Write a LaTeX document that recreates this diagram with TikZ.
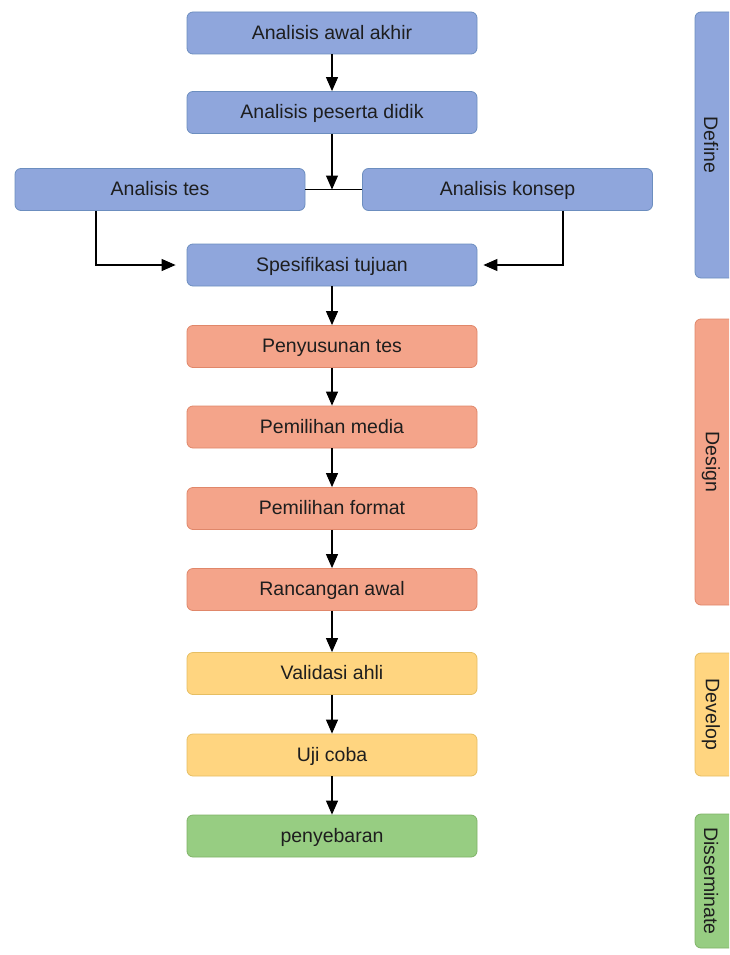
\documentclass[tikz,border=0pt]{standalone}
\usepackage{fontspec}
\setmainfont{Liberation Sans}
\usepackage{xcolor}
\usepackage{tikz}
\usetikzlibrary{positioning,arrows.meta,calc}
\definecolor{defineBlue}{HTML}{8FA6DC}
\definecolor{defineEdge}{HTML}{6C8EBF}
\definecolor{designOrange}{HTML}{F4A48A}
\definecolor{designEdge}{HTML}{E0876A}
\definecolor{developYellow}{HTML}{FFD580}
\definecolor{developEdge}{HTML}{E6BE62}
\definecolor{dissemGreen}{HTML}{97CD82}
\definecolor{dissemEdge}{HTML}{7FB367}
\definecolor{labelInk}{HTML}{1E1E1E}

\begin{document}
\begin{tikzpicture}[x=1pt, y=-1pt,
  stage/.style={draw, rectangle, rounded corners=6pt, line width=0.8pt,
    minimum width=290pt, minimum height=42pt, inner sep=0pt,
    text height=15pt, text depth=2.5pt,
    font=\fontsize{19.5}{23}\selectfont, text=labelInk},
  defbox/.style={stage, fill=defineBlue, draw=defineEdge},
  desbox/.style={stage, fill=designOrange, draw=designEdge},
  devbox/.style={stage, fill=developYellow, draw=developEdge},
  disbox/.style={stage, fill=dissemGreen, draw=dissemEdge},
  flow/.style={line width=1.1pt, -{Triangle[length=14pt,width=12pt]}},
  phaselbl/.style={rotate=-90, font=\fontsize{19.5}{23}\selectfont, text=labelInk}]
  \useasboundingbox (0,0) rectangle (729,955);
  \clip (0,0) rectangle (729,955);

  % phase bars (cut at the right edge)
  \filldraw[fill=defineBlue, draw=defineEdge, line width=0.8pt, rounded corners=6pt]
    (695,12) rectangle (760,278);
  \filldraw[fill=designOrange, draw=designEdge, line width=0.8pt, rounded corners=6pt]
    (695,319) rectangle (760,605);
  \filldraw[fill=developYellow, draw=developEdge, line width=0.8pt, rounded corners=6pt]
    (695,653) rectangle (760,776);
  \filldraw[fill=dissemGreen, draw=dissemEdge, line width=0.8pt, rounded corners=6pt]
    (695,814) rectangle (760,948);
  \node[phaselbl] (pdefine) at (711,145) {Define};
  \node[phaselbl] (pdesign) at (711,462) {Design};
  \node[phaselbl] (pdevelop) at (711,714.5) {Develop};
  \node[phaselbl] (pdissem) at (711,881) {Disseminate};

  % define
  \node[defbox] (awal) at (332,33) {Analisis awal akhir};
  \node[defbox] (peserta) at (332,112.5) {Analisis peserta didik};
  \node[defbox] (tes) at (160,189.5) {Analisis tes};
  \node[defbox] (konsep) at (507.5,189.5) {Analisis konsep};
  \node[defbox] (tujuan) at (332,265) {Spesifikasi tujuan};
  % design
  \node[desbox] (penyusunan) at (332,346.5) {Penyusunan tes};
  \node[desbox] (media) at (332,427) {Pemilihan media};
  \node[desbox] (format) at (332,508.5) {Pemilihan format};
  \node[desbox] (rancangan) at (332,589.5) {Rancangan awal};
  % develop
  \node[devbox] (validasi) at (332,673.5) {Validasi ahli};
  \node[devbox] (ujicoba) at (332,755) {Uji coba};
  % disseminate
  \node[disbox] (sebar) at (332,836) {penyebaran};

  \coordinate (junc) at (peserta |- tes);
  \draw[line width=1.1pt] (tes.east) -- (konsep.west);
  \draw[flow] (awal) -- (peserta);
  \draw[flow] (peserta) -- (junc);
  \draw[flow] ([xshift=-64pt]tes.south) |- ([xshift=-11pt]tujuan.west);
  \draw[flow] ([xshift=55.5pt]konsep.south) |- ([xshift=6pt]tujuan.east);
  \draw[flow] (tujuan) -- (penyusunan);
  \draw[flow] (penyusunan) -- (media);
  \draw[flow] (media) -- (format);
  \draw[flow] (format) -- (rancangan);
  \draw[flow] (rancangan) -- (validasi);
  \draw[flow] (validasi) -- (ujicoba);
  \draw[flow] (ujicoba) -- (sebar);
\end{tikzpicture}
\end{document}
